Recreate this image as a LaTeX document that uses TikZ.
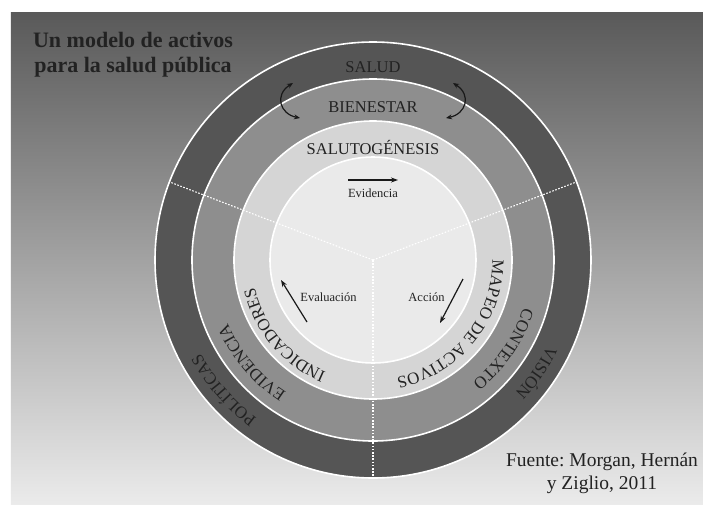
\documentclass[tikz,border=0pt]{standalone}
\usepackage{fontspec}
\setmainfont{Liberation Serif}
\usetikzlibrary{decorations.text,arrows.meta}
\definecolor{ringdark}{HTML}{555555}
\definecolor{ringmid}{HTML}{8E8E8E}
\definecolor{ringlight}{HTML}{D5D5D5}
\definecolor{ringcore}{HTML}{EAEAEA}
\definecolor{inktext}{HTML}{222222}
\newcommand\ringfont{\fontsize{17}{17}\selectfont}
\tikzset{
  ring/.style={draw=white, line width=1.6pt},
  dashline/.style={draw=white, line width=1.1pt, dash pattern=on 1.6pt off 1.6pt},
  toplabel/.style={anchor=base, inner sep=0pt, text=inktext, font=\fontsize{16.5}{16.5}\selectfont},
  smalllabel/.style={anchor=base, inner sep=0pt, text=inktext, font=\fontsize{12.5}{12.5}\selectfont},
  arr/.style={draw=black!90, line width=1.2pt, -{Stealth[length=7pt,width=5pt]}},
  dblarr/.style={draw=black!90, line width=1.2pt, {Stealth[length=6pt,width=5pt]}-{Stealth[length=6pt,width=5pt]}},
}
\newcommand\curvedlabel[3]{%
  \path[decorate, decoration={text along path, text={|\ringfont|#1}, text align=center, text color=inktext}]
    ({#2+80}:#3pt) arc[start angle={#2+80}, end angle={#2-80}, radius=#3pt];}
\begin{document}
\frenchspacing
\begin{tikzpicture}[x=1pt,y=1pt]
\useasboundingbox (-373,-244) rectangle (330,260);
\fill[white] (-373,-244) rectangle (330,260);
\shade[top color=black!65, middle color=black!37, bottom color=black!8] (-362,-244) rectangle (330,248);

\coordinate (c) at (0,0);
\filldraw[ring, fill=ringdark] (c) circle[radius=218pt];
\filldraw[ring, fill=ringmid] (c) circle[radius=181pt];
\filldraw[ring, fill=ringlight] (c) circle[radius=139pt];
\filldraw[ring, fill=ringcore] (c) circle[radius=103pt];

\coordinate (dr) at (21:218pt);
\coordinate (dl) at (159:218pt);
\coordinate (db) at (270:218pt);
\draw[dashline] (c) -- (dr);
\draw[dashline] (c) -- (dl);
\draw[dashline] (c) -- (db);

% straight labels at the top
\node[toplabel] (salud) at (0,187.5) {SALUD};
\node[toplabel] (bienestar) at (0,147.5) {BIENESTAR};
\node[toplabel] (saluto) at (0,106) {SALUTOGÉNESIS};

% curved labels
\curvedlabel{POLÍTICAS}{221}{196}
\curvedlabel{EVIDENCIA}{220.2}{158.5}
\curvedlabel{INDICADORES}{220.2}{121.5}
\curvedlabel{VISIÓN}{325.3}{194.5}
\curvedlabel{CONTEXTO}{325.8}{157.5}
\curvedlabel{MAPEO DE ACTIVOS}{320.75}{119.5}

% curved double arrows
\coordinate (la) at (-80,177);
\coordinate (lb) at (-73,142);
\coordinate (ra) at (80,177);
\coordinate (rb) at (73,142);
\draw[dblarr] (la) .. controls (-99,165) and (-93,146) .. (lb);
\draw[dblarr] (ra) .. controls (99,165) and (93,146) .. (rb);

% inner labels and arrows
\node[smalllabel] (evid) at (0,63) {Evidencia};
\coordinate (ea) at (-25,80);
\coordinate (eb) at (25,80);
\draw[arr] (ea) -- (eb);

\node[smalllabel] (evalu) at (-44.5,-41) {Evaluación};
\coordinate (va) at (-66,-62);
\coordinate (vb) at (-92,-20);
\draw[arr] (va) -- (vb);

\node[smalllabel] (accion) at (53.5,-41) {Acción};
\coordinate (aa) at (90,-19);
\coordinate (ab) at (67,-63);
\draw[arr] (aa) -- (ab);

% title and source
\node[align=center, text=inktext, font=\bfseries\fontsize{22}{25}\selectfont, inner sep=0pt] (title) at (-240,205.5) {Un modelo de activos\\para la salud pública};
\node[align=center, text=inktext, font=\fontsize{19.5}{23}\selectfont, inner sep=0pt] (fuente) at (229,-213) {Fuente: Morgan, Hernán\\y Ziglio, 2011};
\end{tikzpicture}
\end{document}
